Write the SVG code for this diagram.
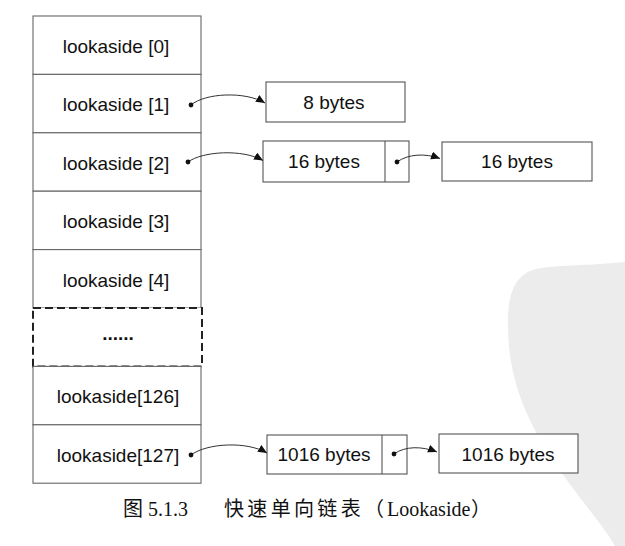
<svg xmlns="http://www.w3.org/2000/svg" width="625" height="546" viewBox="0 0 625 546">
<style>
.cell{fill:#fff;stroke:#666;stroke-width:1.1}
.dash{fill:#fff;stroke:#222;stroke-width:2;stroke-dasharray:8 4}
.box{fill:#fff;stroke:#555;stroke-width:1.1}
.lbl{font-family:"Liberation Sans",Arial,sans-serif;font-size:19px;fill:#111;text-anchor:middle}
.conn{fill:none;stroke:#333;stroke-width:1}
.dot{fill:#111}
.cap{font-family:"Liberation Serif","Noto Sans CJK SC",serif;font-size:20px;fill:#111}
</style>
<defs>
<marker id="ah" markerUnits="userSpaceOnUse" markerWidth="10" markerHeight="9" refX="9" refY="4" orient="auto">
<path d="M0,0 L9,4 L0,8 z" fill="#111"/>
</marker>
</defs>
<path d="M625,262 L600,264 C575,266 545,265 530,271 C512,279 507,300 508,330 C509,370 520,410 550,455 C575,495 600,520 615,546 L625,546 Z" fill="#ececec"/>
<g id="lookaside0"><rect class="cell" x="33" y="16" width="168" height="58.4"/><text class="lbl" x="116" y="52.5">lookaside [0]</text></g>
<g id="lookaside1"><rect class="cell" x="33" y="74.4" width="168" height="58.4"/><text class="lbl" x="116" y="111">lookaside [1]</text></g>
<g id="lookaside2"><rect class="cell" x="33" y="132.8" width="168" height="58.4"/><text class="lbl" x="116" y="169.5">lookaside [2]</text></g>
<g id="lookaside3"><rect class="cell" x="33" y="191.2" width="168" height="58.4"/><text class="lbl" x="116" y="228">lookaside [3]</text></g>
<g id="lookaside4"><rect class="cell" x="33" y="249.6" width="168" height="58.4"/><text class="lbl" x="116" y="286.5">lookaside [4]</text></g>
<g id="ellipsis"><rect class="dash" x="33" y="308" width="169" height="58.4"/><text class="lbl" x="118" y="340" font-size="16" font-weight="bold">......</text></g>
<g id="lookaside126"><rect class="cell" x="33" y="366.4" width="168" height="58.4"/><text class="lbl" x="118" y="403">lookaside[126]</text></g>
<g id="lookaside127"><rect class="cell" x="33" y="424.8" width="168" height="58.4"/><text class="lbl" x="118" y="461.5">lookaside[127]</text></g>
<g id="b8"><rect class="box" x="266" y="82" width="139" height="40"/><text class="lbl" x="334" y="108.5">8 bytes</text></g>
<g id="b16a"><rect class="box" x="263" y="141" width="146" height="41"/><line class="box" x1="385" y1="141" x2="385" y2="182"/><text class="lbl" x="324" y="168">16 bytes</text></g>
<g id="b16b"><rect class="box" x="442" y="142" width="150" height="39"/><text class="lbl" x="517" y="168">16 bytes</text></g>
<g id="b1016a"><rect class="box" x="267" y="435" width="140" height="39"/><line class="box" x1="382" y1="435" x2="382" y2="474"/><text class="lbl" x="324" y="461">1016 bytes</text></g>
<g id="b1016b"><rect class="box" x="439" y="434" width="139" height="39"/><text class="lbl" x="508" y="461">1016 bytes</text></g>
<g id="connectors">
<path class="conn" d="M191,105 C205,93 245,91 265,103" marker-end="url(#ah)"/>
<path class="conn" d="M188,162 C203,151 243,149 263,160.5" marker-end="url(#ah)"/>
<path class="conn" d="M397,162 C408,154 425,153 440,158.5" marker-end="url(#ah)"/>
<path class="conn" d="M191,455 C207,443 247,441 267,453" marker-end="url(#ah)"/>
<path class="conn" d="M394,454 C405,446 422,446 437,452" marker-end="url(#ah)"/>
<circle class="dot" cx="191" cy="105" r="2.4"/>
<circle class="dot" cx="188" cy="162" r="2.4"/>
<circle class="dot" cx="397" cy="162" r="2.4"/>
<circle class="dot" cx="191" cy="455" r="2.4"/>
<circle class="dot" cx="394" cy="454" r="2.4"/>
</g>
<text class="cap" x="123" y="516">图 5.1.3</text>
<text class="cap" y="516"><tspan x="224" textLength="160" lengthAdjust="spacing">快速单向链表（</tspan><tspan x="387">Lookaside</tspan><tspan x="471">）</tspan></text>
</svg>
